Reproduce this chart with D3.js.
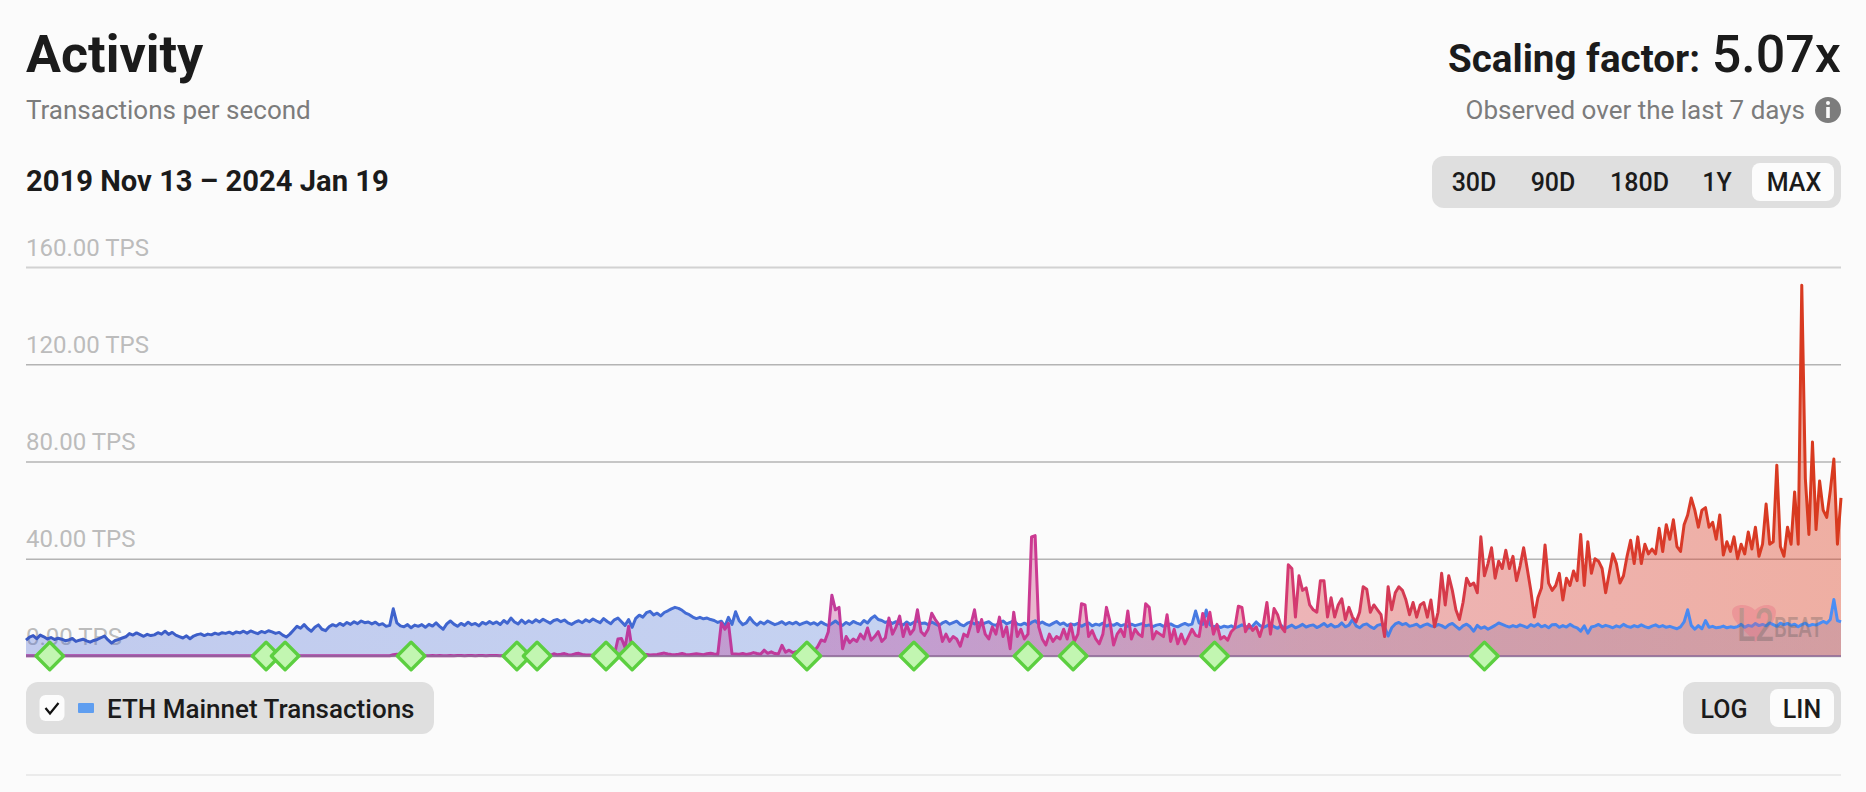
<!DOCTYPE html>
<html>
<head>
<meta charset="utf-8">
<script src="https://cdn.jsdelivr.net/npm/d3@7"></script>
<style>
    body { margin: 0; background: #fbfbfb; font-family: Roboto, sans-serif; }
    svg { display: block; }
    .grid .domain { display: none; }
    .grid text { fill: #bcbcbc; font-size: 24px; font-family: Roboto, sans-serif; }
</style>
</head>
<body>
<div id="graph-container"></div>
<script>
// one value every 3 days, starting at startDate (rows are ~100px wide)
const startDate = Date.UTC(2019, 10, 13);
const stepDays = 3;

const ethTps = [
    6.5,7.8,8.4,7.1,8.6,7.9,7.0,7.6,6.8,7.3,6.9,6.3,6.6,7.2,6.0,6.5,6.9,6.2,5.7,6.4,6.8,7.5,8.2,6.6,5.3,6.4,6.8,7.4,
    7.9,9.2,8.6,9.5,8.8,8.1,8.9,8.4,8.7,9.6,9.0,10.2,8.9,9.7,8.6,8.0,7.4,8.3,7.1,8.2,8.8,9.1,8.4,9.0,8.7,9.4,8.9,9.6,
    9.3,9.8,9.1,9.9,9.5,10.2,9.4,10.3,9.7,9.2,10.1,9.6,10.4,9.9,9.3,9.7,8.6,7.8,9.0,10.6,12.2,11.4,12.9,11.3,10.2,11.8,12.8,11.0,
    10.4,12.0,12.9,12.3,13.4,12.6,13.8,13.0,14.1,13.3,14.4,13.7,14.0,13.2,13.9,12.8,13.3,12.2,12.6,19.4,13.6,12.4,12.0,12.9,11.6,12.7,12.2,12.9,
    11.8,13.0,12.3,13.6,12.2,11.0,13.2,14.4,13.1,12.2,13.4,12.6,13.9,12.9,13.4,12.4,13.8,13.1,14.2,13.3,14.0,13.0,14.6,13.5,15.6,14.0,13.2,14.8,
    13.4,14.5,13.7,14.9,14.0,15.1,14.3,13.5,14.6,15.0,14.1,14.8,13.6,13.0,13.9,14.5,13.7,14.9,14.1,15.2,14.4,13.7,15.4,14.2,13.3,14.9,15.6,14.1,
    12.6,15.0,11.8,15.5,16.8,16.0,17.8,18.4,16.9,17.6,16.5,17.9,18.6,19.4,20.0,19.6,18.8,17.6,17.0,16.0,15.4,15.9,15.3,15.6,15.0,14.6,13.8,14.3,
    12.2,15.9,13.0,18.2,14.5,12.9,13.6,15.8,13.9,12.7,14.0,13.2,14.4,13.6,12.9,13.4,14.1,13.0,13.8,13.2,13.9,12.9,13.5,14.0,13.1,13.7,12.8,14.0,
    13.1,12.5,13.4,14.4,13.2,12.6,13.8,13.0,14.2,13.5,13.0,14.6,13.6,15.4,16.5,15.0,14.6,13.8,14.3,13.4,14.1,13.2,12.8,14.0,13.0,13.9,14.5,13.4,
    13.6,12.9,14.0,13.2,12.5,13.6,14.2,13.1,13.7,14.3,13.0,12.4,13.5,14.0,13.2,13.8,12.9,13.6,14.1,13.0,12.6,13.7,14.4,13.2,13.8,14.6,13.1,12.8,
    13.5,12.7,13.8,14.5,13.2,14.0,13.1,12.6,13.4,14.2,13.0,13.6,12.5,13.2,12.8,13.4,12.2,13.0,13.6,12.4,13.1,12.7,13.5,12.3,13.0,12.6,13.4,12.4,
    12.9,12.2,13.1,12.5,12.9,13.3,12.4,12.8,12.1,12.7,13.0,12.2,12.6,13.2,12.4,12.0,12.8,13.4,12.7,13.1,18.5,13.5,13.0,18.9,12.9,12.0,12.5,11.7,
    12.3,11.9,12.4,11.6,12.1,12.8,12.2,11.5,12.3,14.0,12.6,11.8,12.4,13.2,12.1,11.4,12.6,11.2,12.0,12.7,11.6,12.2,13.0,11.9,12.5,12.8,11.7,12.4,
    13.4,12.1,13.0,11.9,12.3,13.6,12.0,12.7,15.0,12.4,11.6,12.8,13.2,12.1,11.3,12.6,13.0,12.0,8.2,11.6,13.2,13.8,12.9,13.4,12.2,12.6,13.1,11.9,
    12.7,13.2,12.4,12.0,13.0,12.5,11.6,12.8,13.4,12.2,11.0,12.4,13.1,12.0,10.2,12.6,11.4,12.0,11.0,11.8,12.6,13.6,13.0,12.4,11.9,12.5,12.0,12.8,
    12.3,11.7,12.9,12.2,13.2,12.0,12.6,11.6,12.9,13.0,11.8,12.5,11.9,13.0,12.1,11.6,10.2,12.4,9.4,11.9,12.3,13.0,12.0,12.6,12.2,11.6,12.4,11.9,
    13.0,12.2,11.8,12.5,12.0,12.8,12.1,11.6,12.3,12.8,12.0,12.5,11.8,12.2,11.7,11.2,12.0,14.0,19.0,12.6,11.0,12.5,11.2,14.6,11.8,12.2,11.6,11.8,
    12.3,11.6,12.0,11.7,12.1,13.0,11.8,12.6,12.2,13.4,12.5,13.0,12.4,13.6,12.9,12.2,13.5,12.8,13.4,12.6,13.1,12.0,12.9,13.5,12.4,13.0,12.7,13.4,
    14.2,13.5,15.0,23.2,14.6,14.0
];

const l2Tps = [
    0.1,0.1,0.1,0.1,0.1,0.1,0.1,0.1,0.1,0.1,0.1,0.1,0.1,0.1,0.1,0.1,0.1,0.1,0.1,0.1,0.1,0.1,0.1,0.1,0.1,0.1,0.1,0.1,
    0.1,0.1,0.1,0.1,0.1,0.1,0.1,0.1,0.1,0.1,0.1,0.1,0.1,0.1,0.1,0.1,0.1,0.1,0.1,0.1,0.1,0.1,0.1,0.1,0.1,0.1,0.1,0.1,
    0.1,0.1,0.1,0.1,0.1,0.1,0.1,0.1,0.1,0.1,0.1,0.1,0.1,0.1,0.1,0.1,0.1,0.1,0.1,0.1,0.1,0.1,0.1,0.1,0.1,0.1,0.1,0.1,
    0.1,0.1,0.1,0.1,0.1,0.1,0.1,0.1,0.1,0.1,0.1,0.1,0.1,0.1,0.1,0.1,0.1,0.1,0.1,0.5,0.7,0.6,0.8,0.5,0.3,0.2,0.2,0.1,
    0.1,0.1,0.2,0.1,0.2,0.1,0.1,0.2,0.1,0.2,0.2,0.1,0.2,0.2,0.1,0.2,0.2,0.1,0.2,0.2,0.2,0.1,0.2,0.2,0.1,0.2,0.1,0.2,
    0.3,0.4,0.9,1.2,0.6,0.3,0.4,0.3,0.9,0.5,0.7,1.0,0.5,0.4,0.9,1.1,0.6,0.4,0.4,0.3,0.5,0.4,0.3,0.4,0.3,0.4,7.0,7.2,
    3.5,12.2,2.4,1.0,0.7,0.5,0.6,0.4,0.5,0.6,0.9,1.2,0.8,0.6,0.5,0.7,1.0,0.6,0.5,0.7,0.9,0.7,0.5,0.9,1.1,0.8,0.6,13.6,
    11.0,13.4,0.9,0.8,0.7,1.0,0.6,0.9,1.4,1.0,0.7,2.4,1.1,1.7,1.0,0.8,4.4,1.6,2.4,1.4,1.8,1.2,1.6,2.2,1.4,2.0,3.8,6.6,
    6.0,10.0,25.0,19.0,20.0,3.0,8.0,5.5,7.0,6.0,9.0,7.0,11.5,6.5,8.0,10.0,6.0,7.5,15.6,9.0,12.0,16.4,8.0,13.0,9.0,11.0,19.0,10.0,
    8.5,11.0,17.6,15.0,13.0,6.0,9.0,6.0,8.0,7.0,4.0,9.0,8.0,13.0,19.0,10.0,15.0,9.0,7.0,12.0,9.0,16.0,8.0,12.0,3.0,18.0,8.0,11.0,
    7.0,9.0,49.0,49.5,12.0,7.0,4.5,9.0,6.0,8.0,7.0,11.0,7.0,13.0,6.0,9.0,21.5,21.0,8.0,10.5,7.0,5.0,9.0,20.0,14.0,4.5,9.0,11.0,
    8.0,18.5,7.0,11.0,9.0,8.0,21.5,20.0,7.0,10.0,9.0,8.0,17.0,6.0,11.0,5.0,9.0,5.0,8.0,11.0,8.5,8.0,17.5,12.0,18.0,9.0,13.0,7.0,
    8.0,6.5,10.0,11.5,20.5,20.0,10.0,13.0,10.5,12.0,8.0,13.0,22.0,9.0,19.5,17.0,12.0,10.0,37.5,36.0,16.0,33.0,27.0,28.0,21.0,19.0,18.0,31.0,
    31.0,16.0,24.0,16.0,21.0,23.5,15.0,20.0,16.0,14.0,18.0,28.5,27.5,18.0,21.0,19.0,17.0,8.0,28.5,19.0,26.0,28.5,27.0,23.0,17.0,22.0,16.0,21.0,
    22.0,16.0,23.0,12.0,18.0,34.0,21.0,33.0,27.0,19.0,15.0,22.0,32.0,29.0,30.0,26.0,49.0,33.0,38.0,44.5,32.0,39.0,36.0,43.5,36.0,41.0,31.0,37.0,
    44.5,36.0,27.0,16.0,24.0,28.0,45.7,30.0,27.0,29.0,34.0,23.0,32.0,29.0,35.0,31.0,50.0,29.0,47.0,34.0,40.0,39.0,36.0,26.0,34.0,42.0,38.0,30.0,
    33.0,41.0,47.6,38.0,49.0,38.0,46.0,42.0,44.0,42.0,52.5,43.0,54.0,48.0,56.0,45.0,43.0,54.0,58.0,65.0,60.0,53.0,60.0,61.0,53.0,55.0,48.0,58.0,
    41.5,47.0,43.0,49.0,40.0,46.0,42.0,51.0,44.0,53.0,41.0,46.0,62.5,46.0,47.0,78.5,45.0,41.0,53.0,46.0,67.5,46.0,152.5,73.0,50.0,88.0,52.0,72.0,
    60.0,57.0,68.0,81.0,46.0,65.0
];

const eventDates = ['2019-12-03', '2020-06-02', '2020-06-18', '2020-10-02', '2020-12-30', '2021-01-16', '2021-03-15',
    '2021-04-06', '2021-08-31', '2021-11-29', '2022-03-05', '2022-04-12', '2022-08-09', '2023-03-24'];

const yTicks = [0, 40, 80, 120, 160];
const rangeButtons = ['30D', '90D', '180D', '1Y', 'MAX'];
const rangeCenters = [1474, 1553, 1639.5, 1717, 1794];
const scaleButtons = ['LOG', 'LIN'];
const scaleCenters = [1724, 1802];

const margin = { top: 267, right: 25, bottom: 136, left: 26 };
const W = 1866, H = 792;
const width = W - margin.left - margin.right;
const height = H - margin.top - margin.bottom;

const dates = ethTps.map((v, i) => new Date(startDate + i * stepDays * 864e5));

const svg = d3.select("#graph-container").append("svg").attr("width", W).attr("height", H);

// header texts
function label(x, y, text, size, weight, fill, anchor) {
    return svg.append("text")
        .attr("x", x).attr("y", y)
        .attr("font-size", size).attr("font-weight", weight)
        .attr("fill", fill).attr("text-anchor", anchor || "start")
        .text(text);
}
label(26, 72, "Activity", 52, 700, "#1b1b1b");
label(26, 119, "Transactions per second", 26, 400, "#7c7c7c");
label(26, 191, "2019 Nov 13 \u2013 2024 Jan 19", 29.2, 700, "#1b1b1b");
label(1700, 72, "Scaling factor:", 38.6, 700, "#1b1b1b", "end");
label(1841, 72, "5.07x", 52, 500, "#1b1b1b", "end");
label(1805, 119, "Observed over the last 7 days", 26, 400, "#7c7c7c", "end");

// info icon
svg.append("circle").attr("cx", 1828).attr("cy", 110).attr("r", 13).attr("fill", "#7c7c7c");
svg.append("circle").attr("cx", 1828).attr("cy", 103).attr("r", 2).attr("fill", "#fbfbfb");
svg.append("rect").attr("x", 1826.2).attr("y", 107).attr("width", 3.6).attr("height", 11).attr("fill", "#fbfbfb");

// range buttons
svg.append("rect").attr("x", 1432).attr("y", 156).attr("width", 409).attr("height", 52).attr("rx", 12).attr("fill", "#dfdfdf");
svg.append("rect").attr("x", 1752).attr("y", 163).attr("width", 82).attr("height", 38).attr("rx", 8).attr("fill", "#fcfcfc");
rangeButtons.forEach((b, i) => label(rangeCenters[i], 191, b, 25, 500, "#1b1b1b", "middle"));

const g = svg.append("g").attr("transform", `translate(${margin.left},${margin.top})`);

const x = d3.scaleUtc().domain(d3.extent(dates)).range([0, width]);
const y = d3.scaleLinear().domain([0, 160]).range([height, 0]);

// gridlines and tick labels come from the axis
const yAxis = g.append("g").attr("class", "grid")
    .call(d3.axisRight(y).tickValues(yTicks).tickSize(width).tickFormat(d => d3.format(".2f")(d) + " TPS"));
yAxis.selectAll("line")
    .attr("stroke", d => d === 160 ? "#d2d2d2" : "#b4b4b4")
    .attr("stroke-width", d => d === 160 ? 2 : 1.5);
yAxis.selectAll("text").attr("x", 0).attr("dy", -12).attr("text-anchor", "start");

// gradients follow the time axis
const defs = svg.append("defs");
function gradient(id, stops) {
    const grad = defs.append("linearGradient").attr("id", id)
        .attr("gradientUnits", "userSpaceOnUse")
        .attr("x1", 0).attr("x2", width).attr("y1", 0).attr("y2", 0);
    stops.forEach(s => grad.append("stop").attr("offset", s[0]).attr("stop-color", s[1]).attr("stop-opacity", s[2]));
}
gradient("ethLine", [[0, "#3a59c4", 1], [0.5, "#4672da", 1], [1, "#4a8ef6", 1]]);
gradient("ethFill", [[0, "#4664d2", 0.32], [0.6, "#4a78dc", 0.3], [1, "#468cf0", 0.25]]);
gradient("l2Line", [[0, "#a93aa8", 1], [0.45, "#c23a9a", 1], [0.65, "#d4398a", 1], [0.75, "#d43a55", 1], [0.85, "#da3a30", 1], [1, "#d83a1e", 1]]);
gradient("l2Fill", [[0, "#a83ca0", 0.35], [0.5, "#c03c90", 0.35], [0.7, "#d84a50", 0.4], [1, "#dc3c1e", 0.4]]);

const toPoints = values => values.map((v, i) => ({ time: dates[i], tps: v }));
const area = d3.area().x(d => x(d.time)).y0(y(0)).y1(d => y(d.tps));
const line = d3.line().x(d => x(d.time)).y(d => y(d.tps));

// fills go first so the blue line stays bright on top of the red area
g.append("path").datum(toPoints(ethTps)).attr("d", area).attr("fill", "url(#ethFill)");
g.append("path").datum(toPoints(l2Tps)).attr("d", area).attr("fill", "url(#l2Fill)");
g.append("path").datum(toPoints(ethTps)).attr("d", line)
    .attr("fill", "none").attr("stroke", "url(#ethLine)")
    .attr("stroke-width", 3).attr("stroke-linejoin", "round");
g.append("path").datum(toPoints(l2Tps)).attr("d", line)
    .attr("fill", "none").attr("stroke", "url(#l2Line)")
    .attr("stroke-width", 3).attr("stroke-linejoin", "round");
g.append("line").attr("x1", 0).attr("x2", width).attr("y1", y(0)).attr("y2", y(0))
    .attr("stroke", "#8f6a9a").attr("stroke-width", 1.5);

// watermark
const mark = svg.append("g").attr("opacity", 0.3);
mark.append("path")
    .attr("d", "M1755 642 C1745 630 1732 622 1732 612 C1732 604 1747 602 1755 610 C1763 602 1776 604 1776 612 C1776 622 1765 632 1755 642 Z")
    .attr("fill", "#e8607a");
const markText = mark.append("text").attr("x", 1737).attr("y", 641).attr("font-size", 46).attr("font-weight", 500).attr("fill", "#555")
    .attr("textLength", 86).attr("lengthAdjust", "spacingAndGlyphs");
markText.append("tspan").text("L2");
markText.append("tspan").attr("font-size", 28).attr("dy", -4).text("BEAT");

// update markers
g.selectAll(".event").data(eventDates).join("path")
    .attr("class", "event")
    .attr("d", d3.symbol(d3.symbolSquare, 380))
    .attr("transform", d => `translate(${x(new Date(d))},${y(0)}) rotate(45)`)
    .attr("fill", "#c2f6b1").attr("stroke", "#5ccf40").attr("stroke-width", 3.4)
    .attr("stroke-linejoin", "round");

// legend
svg.append("rect").attr("x", 26).attr("y", 682).attr("width", 408).attr("height", 52).attr("rx", 12).attr("fill", "#dfdfdf");
svg.append("rect").attr("x", 39.5).attr("y", 695).attr("width", 25).attr("height", 26).attr("rx", 6).attr("fill", "#fcfcfc");
svg.append("path").attr("d", d3.line()([[45.5, 708], [50, 713.5], [58.5, 703]]))
    .attr("fill", "none").attr("stroke", "#111").attr("stroke-width", 2.2);
svg.append("rect").attr("x", 78).attr("y", 703).attr("width", 16).attr("height", 10).attr("rx", 1).attr("fill", "#5f9ef0");
label(107, 718, "ETH Mainnet Transactions", 26, 500, "#1b1b1b");

// log/lin switch
svg.append("rect").attr("x", 1683).attr("y", 682).attr("width", 158).attr("height", 52).attr("rx", 12).attr("fill", "#dfdfdf");
svg.append("rect").attr("x", 1770).attr("y", 689).attr("width", 64).attr("height", 38).attr("rx", 8).attr("fill", "#fcfcfc");
scaleButtons.forEach((b, i) => label(scaleCenters[i], 718, b, 25, 500, "#1b1b1b", "middle"));

// bottom rule
svg.append("line").attr("x1", 26).attr("x2", 1841).attr("y1", 775).attr("y2", 775).attr("stroke", "#e6e6e6").attr("stroke-width", 1.5);
</script>
</body>
</html>
